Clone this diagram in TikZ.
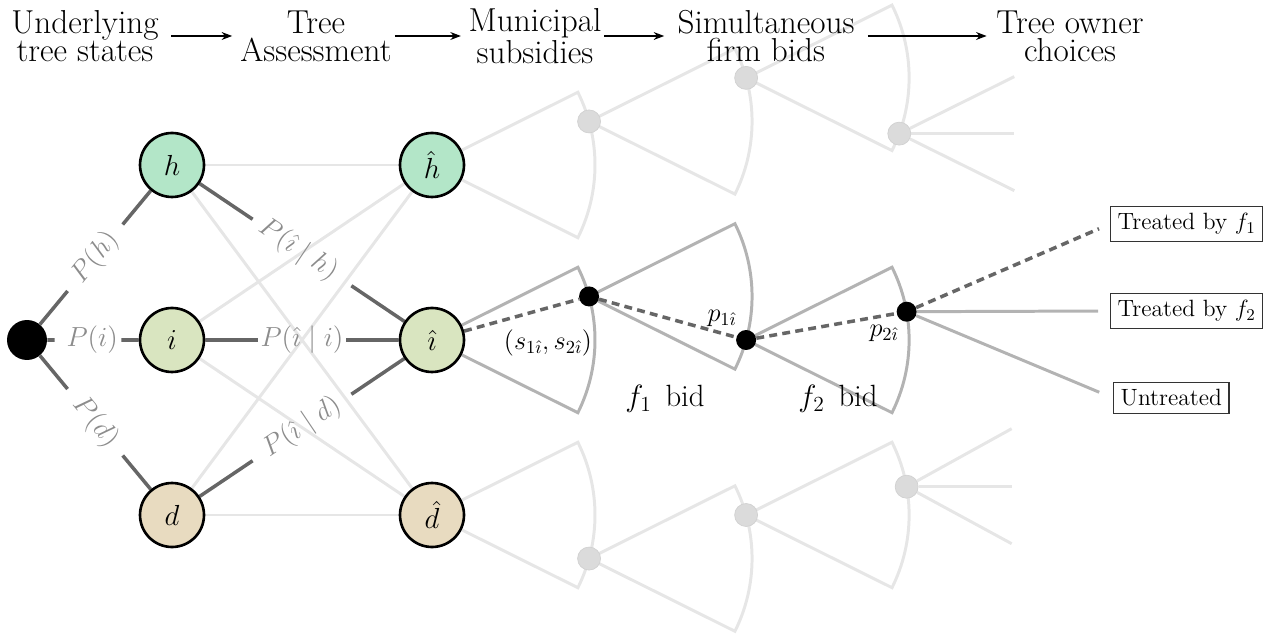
\RequirePackage{fix-cm}
\documentclass[tikz,border=0pt]{standalone}
\usetikzlibrary{calc,arrows.meta}
\definecolor{hcol}{HTML}{B3E6C8}
\definecolor{icol}{HTML}{D9E5C0}
\definecolor{dcol}{HTML}{E8DBC0}
\definecolor{darkln}{HTML}{666666}
\definecolor{faintln}{HTML}{E6E6E6}
\definecolor{medln}{HTML}{B3B3B3}
\definecolor{lblgray}{HTML}{8C8C8C}
\pgfdeclarelayer{bg}
\pgfsetlayers{bg,main}
\newcommand{\fansector}[2]{\draw[#2] (#1.center) -- ++(-26.5:163) arc[start angle=26.5,end angle=-26.5,radius=3.26cm] -- cycle;}
\tikzset{
 state/.style={circle, draw=black, line width=1.5pt, minimum size=1.28cm, inner sep=0pt, font=\fontsize{16.5}{16.5}\selectfont},
 rootdot/.style={circle, fill=black, minimum size=0.8cm, inner sep=0pt},
 bdot/.style={circle, fill=black, minimum size=0.4cm, inner sep=0pt},
 fdot/.style={circle, fill=black!14, draw=black!18, line width=0.4pt, minimum size=0.46cm, inner sep=0pt},
 darkedge/.style={draw=darkln, line width=2pt},
 faintedge/.style={draw=faintln, line width=1.7pt},
 medfan/.style={draw=medln, line width=1.7pt},
 faintfan/.style={draw=faintln, line width=1.7pt},
 dashedge/.style={draw=darkln, line width=2pt, dash pattern=on 4.5pt off 3pt},
 plabel/.style={text=lblgray, font=\fontsize{15.7}{16}\selectfont, inner sep=0pt},
 hdr/.style={align=center, inner sep=0pt, font=\fontsize{18.9}{15.9}\selectfont},
 harr/.style={-{Stealth[length=6pt,width=4.5pt]}, line width=0.7pt},
 outbox/.style={draw=black!80, line width=0.8pt, inner sep=4pt, font=\fontsize{13.4}{14}\selectfont},
 mlabel/.style={font=\fontsize{15}{15}\selectfont, inner sep=0pt},
 bidlabel/.style={font=\fontsize{17.5}{17.5}\selectfont, inner sep=0pt},
}
\begin{document}
\begin{tikzpicture}[x=0.02cm,y=-0.02cm]
\useasboundingbox (0,0) rectangle (1270,634);

% header
\node[hdr] (c1) at (85,36) {Underlying\\tree states};
\node[hdr] (c2) at (316,36) {Tree\\Assessment};
\node[hdr] (c3) at (535,36) {Municipal\\subsidies};
\node[hdr] (c4) at (766,36) {Simultaneous\\firm bids};
\node[hdr] (c5) at (1070,36) {Tree owner\\choices};
\draw[harr, shorten <=6.9pt, shorten >=4.5pt] (c1) -- (c2);
\draw[harr, shorten <=1.7pt, shorten >=4.2pt] (c2) -- (c3);
\draw[harr, shorten <=1.4pt, shorten >=7.4pt] (c3) -- (c4);
\draw[harr, shorten <=7.4pt, shorten >=5.4pt] (c4) -- (c5);

% state nodes
\node[rootdot] (root) at (27,340) {};
\node[state, fill=hcol] (h) at (172,165) {$h$};
\node[state, fill=icol] (i) at (172,340) {$i$};
\node[state, fill=dcol] (d) at (172,515) {$d$};
\node[state, fill=hcol] (hh) at (432,165) {$\hat h$};
\node[state, fill=icol] (ih) at (432,340) {$\hat\imath$};
\node[state, fill=dcol] (dh) at (432,515) {$\hat d$};

% main tree dots
\node[bdot] (m1) at ($(ih)+(-15.5:163)$) {};
\node[bdot] (m2) at ($(m1)+(15.5:163)$) {};
\node[bdot] (m3) at ($(m2)+(-10:163)$) {};

% faint top tree dots
\node[fdot] (t1) at ($(hh)+(-15.5:163)$) {};
\node[fdot] (t2) at ($(t1)+(-15.5:163)$) {};
\node[fdot] (t3) at ($(t2)+(20:163)$) {};
\coordinate (t3a) at ($(t3)+(115,-57)$);
\coordinate (t3b) at ($(t3)+(115,0)$);
\coordinate (t3c) at ($(t3)+(115,57)$);

% faint bottom tree dots
\node[fdot] (b1) at ($(dh)+(15.5:163)$) {};
\node[fdot] (b2) at ($(b1)+(-15.5:163)$) {};
\node[fdot] (b3) at ($(b2)+(-10:163)$) {};
\coordinate (b3a) at ($(b3)+(105,-58)$);
\coordinate (b3b) at ($(b3)+(105,0)$);
\coordinate (b3c) at ($(b3)+(105,57)$);

% outcome boxes
\node[outbox, anchor=west] (o1) at (1110,224) {Treated by $f_1$};
\node[outbox, anchor=west] (o2) at (1110,311) {Treated by $f_2$};
\node[outbox, anchor=west] (o3) at (1113,398) {Untreated};

% labels
\node[mlabel] (sl) at (548,343) {$(s_{1\hat\imath},s_{2\hat\imath})$};
\node[mlabel] (pl1) at (722,318) {$p_{1\hat\imath}$};
\node[mlabel] (pl2) at (884,333) {$p_{2\hat\imath}$};
\node[bidlabel] (fb1) at (665,399) {$f_1$\hspace{0.45em}bid};
\node[bidlabel] (fb2) at (838,399) {$f_2$\hspace{0.45em}bid};

% probability labels
\node[plabel, rotate=50.55] (lh) at ($(root)!0.47!(h)$) {$P(h)$};
\node[plabel] (li) at ($(root)!0.45!(i)$) {$P(i)$};
\node[plabel, rotate=-50.55] (ld) at ($(root)!0.47!(d)$) {$P(d)$};
\node[plabel, rotate=-33.94] (lih) at ($(h)!0.485!(ih)$) {$P(\hat\imath\mid h)$};
\node[plabel] (lii) at ($(i)!0.5!(ih)$) {$P(\hat\imath\mid i)$};
\node[plabel, rotate=33.94] (lid) at ($(d)!0.5!(ih)$) {$P(\hat\imath\mid d)$};

\begin{pgfonlayer}{bg}
% faint trees
\fansector{hh}{faintfan}
\fansector{t1}{faintfan}
\fansector{t2}{faintfan}
\draw[faintfan] (t3) -- (t3a);
\draw[faintfan] (t3) -- (t3b);
\draw[faintfan] (t3) -- (t3c);
\fansector{dh}{faintfan}
\fansector{b1}{faintfan}
\fansector{b2}{faintfan}
\draw[faintfan] (b3) -- (b3a);
\draw[faintfan] (b3) -- (b3b);
\draw[faintfan] (b3) -- (b3c);
% faint state lines
\draw[faintedge] (h) -- (hh);
\draw[faintedge] (h) -- (dh);
\draw[faintedge] (i) -- (hh);
\draw[faintedge] (i) -- (dh);
\draw[faintedge] (d) -- (hh);
\draw[faintedge] (d) -- (dh);
% dark segments
\draw[darkedge] (root) -- ($(root)!0.28!(h)$);
\draw[darkedge] ($(root)!0.66!(h)$) -- (h);
\draw[darkedge] (root) -- ($(root)!0.19!(i)$);
\draw[darkedge] ($(root)!0.65!(i)$) -- (i);
\draw[darkedge] (root) -- ($(root)!0.28!(d)$);
\draw[darkedge] ($(root)!0.66!(d)$) -- (d);
\draw[darkedge] (h) -- ($(h)!0.31!(ih)$);
\draw[darkedge] ($(h)!0.69!(ih)$) -- (ih);
\draw[darkedge] (i) -- ($(i)!0.33!(ih)$);
\draw[darkedge] ($(i)!0.67!(ih)$) -- (ih);
\draw[darkedge] (d) -- ($(d)!0.31!(ih)$);
\draw[darkedge] ($(d)!0.69!(ih)$) -- (ih);
% main tree
\fansector{ih}{medfan}
\fansector{m1}{medfan}
\fansector{m2}{medfan}
\draw[medfan, shorten >=6.8pt] (m3) -- (o2.west);
\draw[medfan, shorten >=8.5pt] (m3) -- (o3.west);
\draw[dashedge] (ih) -- (m1) -- (m2) -- (m3);
\draw[dashedge, shorten >=6.8pt] (m3) -- (o1.west);
\end{pgfonlayer}
\end{tikzpicture}
\end{document}
